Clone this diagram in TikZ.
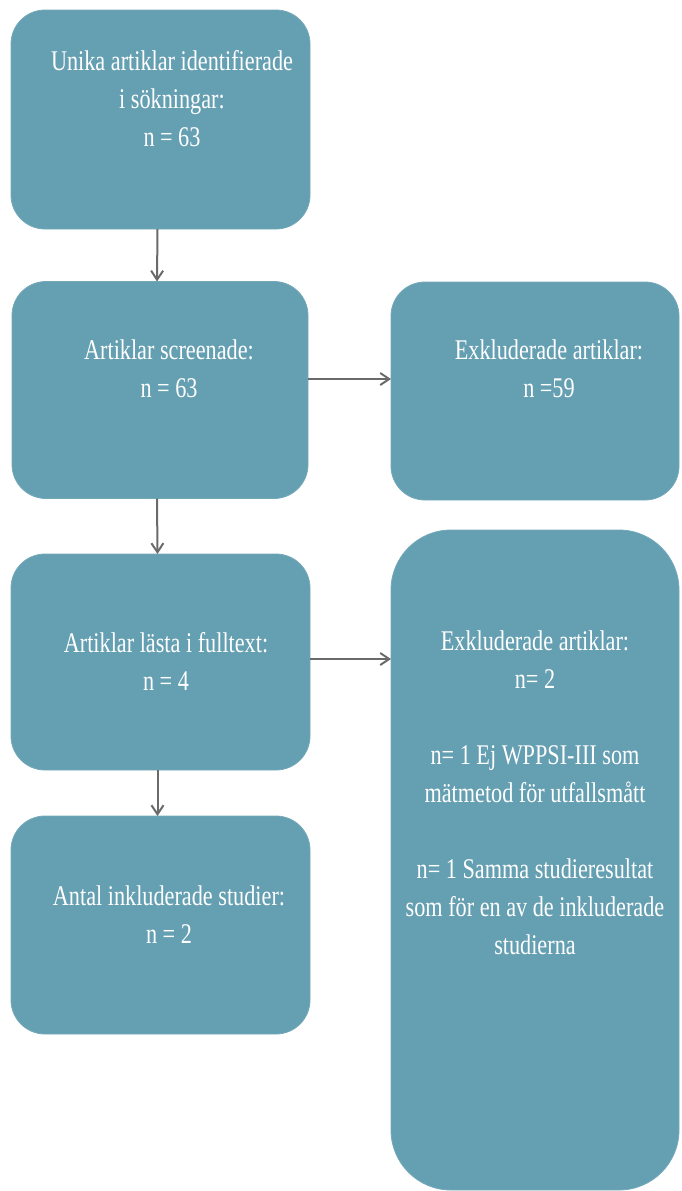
\documentclass[tikz,border=0pt]{standalone}
\usepackage{fontspec}
\setmainfont[FakeStretch=0.78]{Liberation Serif}
\usetikzlibrary{arrows.meta}
\definecolor{boxfill}{HTML}{659FB2}
\definecolor{arrowgray}{HTML}{6A6A6A}
\tikzset{
  flowbox/.style={rectangle, fill=boxfill, draw=boxfill!90!white, line width=0.8pt,
    inner sep=0pt, outer sep=0pt, rounded corners=34pt},
  bigbox/.style={flowbox, rounded corners=60pt},
  label/.style={text=white, align=center, inner sep=0pt,
    font=\fontsize{28.5}{38}\selectfont},
  flowarrow/.style={draw=arrowgray, line width=2pt,
    -{Straight Barb[length=9pt,width=12pt,line width=2pt]}}
}
\begin{document}
\begin{tikzpicture}[x=1pt,y=-1pt]
\useasboundingbox (0,0) rectangle (681,1191);
% boxes
\node[flowbox, minimum width=299pt, minimum height=219pt] (b1) at (160.5,119.5) {};
\node[flowbox, minimum width=296pt, minimum height=217pt] (b2) at (160,390) {};
\node[flowbox, minimum width=288pt, minimum height=218pt] (b3) at (535,391) {};
\node[flowbox, minimum width=299pt, minimum height=216pt] (b4) at (160.5,662) {};
\node[bigbox, minimum width=288pt, minimum height=660pt] (b5) at (535,860) {};
\node[flowbox, minimum width=299pt, minimum height=218pt] (b6) at (160.5,925) {};
% texts
\node[label] (t1) at (172,99) {Unika artiklar identifierade\\i sökningar:\\n = 63};
\node[label] (t2) at (169,369) {Artiklar screenade:\\n = 63};
\node[label] (t3) at (549,369) {Exkluderade artiklar:\\n =59};
\node[label] (t4) at (166,661) {Artiklar lästa i fulltext:\\n = 4};
\node[label, anchor=north] (t5) at (535,631) {Exkluderade artiklar:\\n= 2\\[38pt]n= 1 Ej WPPSI-III som\\mätmetod för utfallsmått\\[38pt]n= 1 Samma studieresultat\\som för en av de inkluderade\\studierna};
\node[label] (t6) at (169,915) {Antal inkluderade studier:\\n = 2};
% connector anchors
\coordinate (a12s) at ([xshift=-3pt]b1.south);
\coordinate (a12e) at ([xshift=-3pt]b2.north);
\coordinate (a24s) at ([xshift=-3pt]b2.south);
\coordinate (a24e) at ([xshift=-3pt]b4.north);
\coordinate (a46s) at ([xshift=-3pt]b4.south);
\coordinate (a46e) at ([xshift=-3pt]b6.north);
\draw[flowarrow] (a12s) -- (a12e);
\draw[flowarrow] (a24s) -- (a24e);
\draw[flowarrow] (a46s) -- (a46e);
\draw[flowarrow] (b2.east |- 0,379) -- (b3.west |- 0,379);
\draw[flowarrow] (b4.east |- 0,659) -- (b5.west |- 0,659);
\end{tikzpicture}
\end{document}
